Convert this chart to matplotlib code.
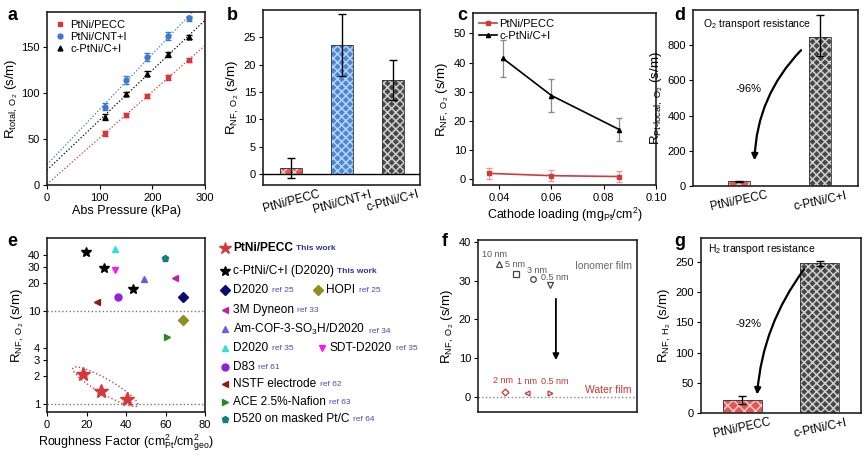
import numpy as np
import matplotlib
matplotlib.use('Agg')
import matplotlib.pyplot as plt
from matplotlib.patches import Ellipse, FancyArrowPatch
from matplotlib.transforms import IdentityTransform
from matplotlib.lines import Line2D
from matplotlib.ticker import FixedLocator, FixedFormatter, NullLocator

# ---------------- data ----------------
# (a)
pressure = [110, 150, 190, 230, 270]
a_pecc = [56, 76, 97, 117, 136]
a_pecc_err = [2.5, 2, 2, 2.5, 2.5]
a_cnt = [85, 114, 139, 162, 181]
a_cnt_err = [4, 4, 4.5, 4.5, 3]
a_cpt = [74, 99, 121, 142, 161]
a_cpt_err = [3, 2, 2.5, 2.5, 2.5]

# (b)
b_samples = ['PtNi/PECC', 'PtNi/CNT+I', 'c-PtNi/C+I']
b_rnf = [1.1, 23.6, 17.2]
b_err = [1.8, 5.7, 3.6]

# (c)
c_load_pecc = [0.036, 0.060, 0.086]
c_rnf_pecc = [2.0, 1.2, 0.9]
c_err_pecc = [1.9, 1.8, 1.8]
c_load_cpt = [0.0415, 0.060, 0.086]
c_rnf_cpt = [41.4, 28.7, 17.0]
c_err_cpt = [6.2, 5.5, 4.0]

# (d)
d_samples = ['PtNi/PECC', 'c-PtNi/C+I']
d_rloc = [27, 848]
d_err_lo = [4, 110]
d_err_hi = [4, 125]

# (e)
e_pecc_rf = [18.4, 27.3, 40.7]
e_pecc_rnf = [2.1, 1.39, 1.12]
e_cpt_rf = [19.6, 29.0, 43.4]
e_cpt_rnf = [43.5, 29.0, 17.1]
lit_names = ['D2020', 'HOPI', '3M Dyneon', 'Am-COF-3-SO$_3$H/D2020', 'D2020',
             'SDT-D2020', 'D83', 'NSTF electrode', 'ACE 2.5%-Nafion', 'D520 on masked Pt/C']
lit_refs = ['ref 25', 'ref 25', 'ref 33', 'ref 34', 'ref 35', 'ref 35', 'ref 61', 'ref 62', 'ref 63', 'ref 64']
lit_rf = [68.9, 68.9, 64.6, 49.3, 34.4, 34.4, 35.9, 25.5, 60.6, 59.6]
lit_rnf = [14.0, 8.0, 22.9, 22.0, 46.5, 27.5, 14.0, 12.5, 5.3, 37.0]

# (f)
f_ion_x = [1.32, 2.41, 3.48, 4.55]
f_ion_y = [34.2, 31.6, 30.3, 28.9]
f_ion_lab = ['10 nm', '5 nm', '3 nm', '0.5 nm']
f_wat_x = [1.68, 3.06, 4.55]
f_wat_y = [1.2, 1.0, 1.0]
f_wat_lab = ['2 nm', '1 nm', '0.5 nm']

# (g)
g_samples = ['PtNi/PECC', 'c-PtNi/C+I']
g_rnf = [21, 248]
g_err = [6.5, 4]

# ---------------- style ----------------
plt.rcParams['font.family'] = ['Liberation Sans', 'DejaVu Sans']
plt.rcParams['mathtext.fontset'] = 'custom'
plt.rcParams['mathtext.rm'] = 'Liberation Sans'
plt.rcParams['mathtext.it'] = 'Liberation Sans:italic'
plt.rcParams['mathtext.bf'] = 'Liberation Sans:bold'
plt.rcParams['hatch.linewidth'] = 1.1
plt.rcParams['axes.linewidth'] = 1.2
plt.rcParams['axes.edgecolor'] = '#222222'
plt.rcParams['xtick.labelsize'] = 8
plt.rcParams['ytick.labelsize'] = 8
plt.rcParams['xtick.major.size'] = 3
plt.rcParams['ytick.major.size'] = 3
plt.rcParams['xtick.major.pad'] = 2.5
plt.rcParams['ytick.major.pad'] = 2
plt.rcParams['axes.labelsize'] = 9
plt.rcParams['axes.labelpad'] = 2

RED = '#d23a3a'
BLUE = '#3b78cf'
W, H = 868, 461
fig = plt.figure(figsize=(W / 100, H / 100), dpi=100)


def add_ax(l, r, t, b):
    return fig.add_axes([l / W, 1 - b / H, (r - l) / W, (b - t) / H])


def hatched_bars(ax, x, h, width, faces, hatchcols, hatches):
    for xi, hi, fc, hc, ht in zip(x, h, faces, hatchcols, hatches):
        ax.bar(xi, hi, width, color=fc, edgecolor=hc, hatch=ht, lw=0, zorder=2)
        ax.bar(xi, hi, width, fill=False, edgecolor='#333333', lw=0.6, zorder=3)


# ---------------- (a) ----------------
ax = add_ax(47, 205, 12, 185)
series = [(a_pecc, a_pecc_err, RED, 's', 'PtNi/PECC'),
          (a_cnt, a_cnt_err, BLUE, 'o', 'PtNi/CNT+I'),
          (a_cpt, a_cpt_err, 'k', '^', 'c-PtNi/C+I')]
handles = []
xs = np.array([0, 300])
for y, e, c, m, lab in series:
    k, b0 = np.polyfit(pressure, y, 1)
    ax.plot(xs, k * xs + b0, ':', color=c, lw=0.9)
    ax.errorbar(pressure, y, yerr=e, fmt=m, color=c, ms=3.5, capsize=2, elinewidth=0.9)
    handles.append(Line2D([], [], marker=m, ls='none', color=c, ms=3.5, label=lab))
ax.set_xlim(0, 300)
ax.set_ylim(0, 188)
ax.set_xticks([0, 100, 200, 300])
ax.set_yticks([0, 50, 100, 150])
ax.set_xlabel('Abs Pressure (kPa)')
ax.set_ylabel(r'R$_{\mathrm{total,\ O_2}}$ (s/m)', fontsize=9.5, labelpad=1)
ax.legend(handles=handles, loc='upper left', frameon=False, fontsize=8,
          handlelength=1, handletextpad=0.4, labelspacing=0.2, borderaxespad=0.3)

# ---------------- (b) ----------------
ax = add_ax(263, 420, 10, 185)
xb = np.arange(len(b_samples))
hatched_bars(ax, xb, b_rnf, 0.43, ['#e05858', '#4a86d8', '#474747'],
             ['#f6c8c8', '#b9d3f3', '#cfcfcf'], ['xxx', 'xxxx', 'xxxx'])
ax.errorbar(xb, b_rnf, yerr=b_err, fmt='none', ecolor='k', capsize=3, elinewidth=1, zorder=4)
ax.axhline(0, color='k', lw=1, zorder=4)
ax.set_xlim(-0.55, 2.53)
ax.set_ylim(-2, 30)
ax.set_yticks([0, 5, 10, 15, 20, 25])
ax.set_xticks(xb)
ax.set_xticklabels(b_samples, rotation=15, fontsize=8.5)
ax.tick_params(axis='x', length=0)
ax.set_ylabel(r'R$_{\mathrm{NF,\ O_2}}$ (s/m)', fontsize=9.5)

# ---------------- (c) ----------------
ax = add_ax(473, 656, 13, 185)
ax.errorbar(c_load_pecc, c_rnf_pecc, yerr=c_err_pecc, color=RED, marker='s', ms=3, lw=1.2,
            ecolor='#e79a9a', capsize=2.5, elinewidth=0.9)
ax.errorbar(c_load_cpt, c_rnf_cpt, yerr=c_err_cpt, color='k', marker='^', ms=3, lw=1.2,
            ecolor='#8a8a8a', capsize=2.5, elinewidth=0.9)
ax.set_xlim(0.03, 0.10)
ax.set_ylim(-2, 57)
ax.set_xticks([0.04, 0.06, 0.08, 0.10])
ax.set_xticklabels(['0.04', '0.06', '0.08', '0.10'])
ax.set_yticks([0, 10, 20, 30, 40, 50])
ax.set_xlabel(r'Cathode loading (mg$_{\mathrm{Pt}}$/cm$^2$)')
ax.set_ylabel(r'R$_{\mathrm{NF,\ O_2}}$ (s/m)', fontsize=9.5)
hc = [Line2D([], [], color=RED, marker='s', ms=3, lw=1.2, label='PtNi/PECC'),
      Line2D([], [], color='k', marker='^', ms=3, lw=1.2, label='c-PtNi/C+I')]
ax.legend(handles=hc, loc='upper left', frameon=False, fontsize=8, handlelength=1.6,
          handletextpad=0.2, labelspacing=0.2, borderaxespad=0.15)

# ---------------- (d) ----------------
ax = add_ax(693, 858, 10, 186)
xd = np.arange(len(d_samples))
hatched_bars(ax, xd, d_rloc, 0.27, ['#e05858', '#474747'], ['#f6c8c8', '#cfcfcf'], ['xxx', 'xxxx'])
ax.errorbar(xd, d_rloc, yerr=[d_err_lo, d_err_hi], fmt='none', ecolor='k', capsize=3, elinewidth=1, zorder=4)
ax.set_xlim(-0.57, 1.47)
ax.set_ylim(0, 1000)
ax.set_yticks([0, 200, 400, 600, 800])
ax.set_xticks(xd)
ax.set_xticklabels(d_samples, rotation=12, fontsize=8.5)
ax.tick_params(axis='x', length=0)
ax.set_ylabel(r'R$_{\mathrm{Pt\text{-}local,\ O_2}}$ (s/m)', fontsize=9.5)
ax.text(0.06, 0.92, r'O$_2$ transport resistance', transform=ax.transAxes, fontsize=7.5, va='center')
ax.text(0.11, 552, '-96%', fontsize=8, ha='center', va='center')
ax.add_patch(FancyArrowPatch((0.79, 783), (0.19, 130), connectionstyle='arc3,rad=0.2',
                             arrowstyle='-|>', mutation_scale=9, lw=1.6, color='k', zorder=5))

# ---------------- (e) ----------------
ax = add_ax(47, 205, 238, 412)
ax.set_yscale('log')
ax.set_xlim(0, 80)
ax.set_ylim(0.82, 61)
ax.yaxis.set_major_locator(FixedLocator([1, 2, 3, 4, 10, 20, 30, 40]))
ax.yaxis.set_major_formatter(FixedFormatter(['1', '2', '3', '4', '10', '20', '30', '40']))
ax.yaxis.set_minor_locator(NullLocator())
ax.set_xticks([0, 20, 40, 60, 80])
ax.axhline(1, ls=':', color='#777777', lw=1)
ax.axhline(10, ls=':', color='#777777', lw=1)
lit_style = [('D', '#0b0b70'), ('D', '#8f8f20'), ('<', '#c0209f'), ('^', '#6262e0'),
             ('^', '#30dede'), ('v', '#ee20ee'), ('o', '#8f22e0'), ('<', '#8b1a1a'),
             ('>', '#228b22'), ('p', '#108080')]
for xv, yv, (m, c) in zip(lit_rf, lit_rnf, lit_style):
    ax.plot(xv, yv, marker=m, color=c, ms=5, ls='none')
ax.plot(e_cpt_rf, e_cpt_rnf, marker='*', color='k', ms=7, ls='none')
ax.plot(e_pecc_rf, e_pecc_rnf, marker='*', color=RED, ms=10, ls='none')
ax.set_xlabel(r'Roughness Factor (cm$^2_{\mathrm{Pt}}$/cm$^2_{\mathrm{geo}}$)')
ax.set_ylabel(r'R$_{\mathrm{NF,\ O_2}}$ (s/m)', fontsize=9.5, labelpad=1)
pts = ax.transData.transform(np.column_stack([e_pecc_rf, e_pecc_rnf]))
dvec = pts[-1] - pts[0]
ell = Ellipse(pts[[0, -1]].mean(axis=0), np.hypot(*dvec) + 24, 15,
              angle=np.degrees(np.arctan2(dvec[1], dvec[0])), transform=IdentityTransform(),
              fill=False, ls=':', ec='#d04040', lw=1)
fig.add_artist(ell)

# legend for (e)
lg = add_ax(212, 420, 235, 430)
lg.set_axis_off()
lg.set_xlim(212, 420)
lg.set_ylim(430, 235)
REFC = '#4a4ab8'
rows = [(248, 225, '*', RED, 9, 'PtNi/PECC', 'This work', True),
        (271, 225, '*', 'k', 7, 'c-PtNi/C+I (D2020)', 'This work', False)]
rowy = [290, 290, 310, 329, 348, 348, 367, 384, 402, 419]
rowx = [225, 318, 225, 225, 225, 322, 225, 225, 225, 225]
for i in range(len(lit_names)):
    rows.append((rowy[i], rowx[i], lit_style[i][0], lit_style[i][1], 5, lit_names[i], lit_refs[i], False))
for y, x, m, c, ms, name, ref, bold in rows:
    lg.plot(x, y, marker=m, color=c, ms=ms, ls='none', clip_on=False)
    t = lg.text(x + 8, y, name, fontsize=8.6, va='center', fontweight='bold' if bold else 'normal')
    isw = ref == 'This work'
    lg.annotate(ref, xy=(1, 0), xycoords=t, xytext=(2.5, 1.2), textcoords='offset points',
                fontsize=6, color=REFC if not isw else '#3030a0',
                fontweight='bold' if isw else 'normal', va='bottom')

# ---------------- (f) ----------------
ax = add_ax(478, 637, 240, 412)
ax.set_xlim(0, 10)
ax.set_ylim(-4, 40.5)
ax.set_xticks([])
ax.set_yticks([0, 10, 20, 30, 40])
ax.axhline(0, ls=':', color='#888888', lw=1)
for xv, yv, m, lab, off in zip(f_ion_x, f_ion_y, ['^', 's', 'o', 'v'], f_ion_lab,
                               [(-3, 4), (-1, 4), (3, 3), (3, 2)]):
    ax.plot(xv, yv, marker=m, mfc='none', mec='#444444', mew=0.9, ms=4, ls='none')
    ax.annotate(lab, (xv, yv), xytext=off, textcoords='offset points', fontsize=6.5,
                color='#555555', ha='center', va='bottom')
for xv, yv, m, lab, off in zip(f_wat_x, f_wat_y, ['D', '<', '>'], f_wat_lab,
                               [(-1, 5), (0, 5), (3.5, 5)]):
    ax.plot(xv, yv, marker=m, mfc='none', mec='#cc3333', mew=0.9, ms=3.5, ls='none')
    ax.annotate(lab, (xv, yv), xytext=off, textcoords='offset points', fontsize=6.5,
                color='#cc3333', ha='center', va='bottom')
ax.annotate('', xy=(4.9, 8.7), xytext=(4.9, 26),
            arrowprops=dict(arrowstyle='-|>', color='k', lw=1.3, mutation_scale=9))
ax.text(0.79, 0.85, 'Ionomer film', transform=ax.transAxes, fontsize=7.5, color='#666666', ha='center', va='center')
ax.text(0.82, 0.13, 'Water film', transform=ax.transAxes, fontsize=7.5, color='#cc3333', ha='center', va='center')
ax.set_ylabel(r'R$_{\mathrm{NF,\ O_2}}$ (s/m)', fontsize=9.5)

# ---------------- (g) ----------------
ax = add_ax(701, 861, 238, 413)
xg = np.arange(len(g_samples))
hatched_bars(ax, xg, g_rnf, 0.5, ['#e05858', '#474747'], ['#f6c8c8', '#cfcfcf'], ['xxx', 'xxxx'])
ax.errorbar(xg, g_rnf, yerr=g_err, fmt='none', ecolor='k', capsize=3, elinewidth=1, zorder=4)
ax.set_xlim(-0.53, 1.53)
ax.set_ylim(0, 290)
ax.set_yticks([0, 50, 100, 150, 200, 250])
ax.set_xticks(xg)
ax.set_xticklabels(g_samples, rotation=12, fontsize=8.5)
ax.tick_params(axis='x', length=0)
ax.set_ylabel(r'R$_{\mathrm{NF,\ H_2}}$ (s/m)', fontsize=9.5)
ax.text(0.045, 0.937, r'H$_2$ transport resistance', transform=ax.transAxes, fontsize=7.5, va='center')
ax.text(0.08, 147, '-92%', fontsize=8, ha='center', va='center')
ax.add_patch(FancyArrowPatch((0.82, 242), (0.19, 26), connectionstyle='arc3,rad=0.15',
                             arrowstyle='-|>', mutation_scale=9, lw=1.6, color='k', zorder=5))

# panel letters
for lab, (px, py) in zip('abcdefg', [(12, 16), (232, 16), (462, 16), (680, 16),
                                      (12, 241), (445, 241), (680, 241)]):
    fig.text(px / W, 1 - py / H, lab, fontsize=13, fontweight='bold', ha='center', va='center')

fig.savefig('out.png', dpi=100)
